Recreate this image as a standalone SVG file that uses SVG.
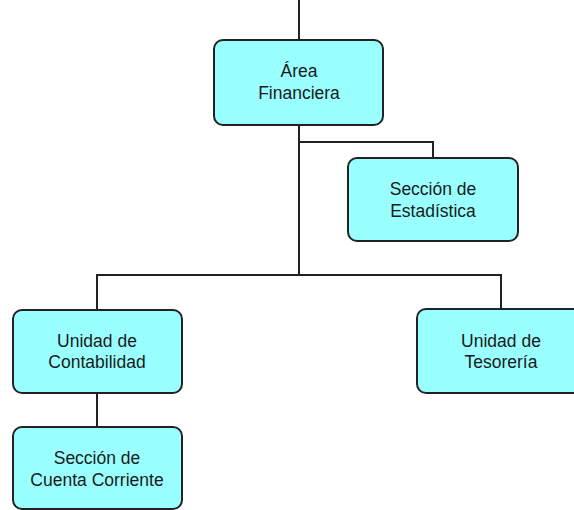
<svg xmlns="http://www.w3.org/2000/svg" width="574" height="510" viewBox="0 0 574 510">
<style>
.box{fill:#99ffff;stroke:#222;stroke-width:2}
.lbl{font-family:"Liberation Sans",Arial,sans-serif;font-size:17.5px;fill:#1a1a1a;text-anchor:middle}
.con{fill:none;stroke:#222;stroke-width:2}
</style>
<rect width="574" height="510" fill="#fff"/>
<g id="connectors">
<path class="con" d="M299,0 V40"/>
<path class="con" d="M299,125 V275"/>
<path class="con" d="M299,142 H433 V158"/>
<path class="con" d="M97,310 V275 H501 V309"/>
<path class="con" d="M97,393 V427"/>
</g>
<g id="area-financiera">
<rect class="box" x="214" y="40" width="169" height="85" rx="9"/>
<text class="lbl" x="299" y="77">Área</text>
<text class="lbl" x="299" y="99">Financiera</text>
</g>
<g id="seccion-estadistica">
<rect class="box" x="348" y="158" width="170" height="83" rx="9"/>
<text class="lbl" x="433" y="195">Sección de</text>
<text class="lbl" x="433" y="217">Estadística</text>
</g>
<g id="unidad-contabilidad">
<rect class="box" x="13" y="310" width="169" height="83" rx="9"/>
<text class="lbl" x="97" y="347">Unidad de</text>
<text class="lbl" x="97" y="368">Contabilidad</text>
</g>
<g id="unidad-tesoreria">
<rect class="box" x="417" y="309" width="168" height="84" rx="9"/>
<text class="lbl" x="501" y="347">Unidad de</text>
<text class="lbl" x="501" y="368">Tesorería</text>
</g>
<g id="seccion-cuenta-corriente">
<rect class="box" x="13" y="427" width="169" height="82" rx="9"/>
<text class="lbl" x="97" y="464">Sección de</text>
<text class="lbl" x="97" y="486">Cuenta Corriente</text>
</g>
</svg>
